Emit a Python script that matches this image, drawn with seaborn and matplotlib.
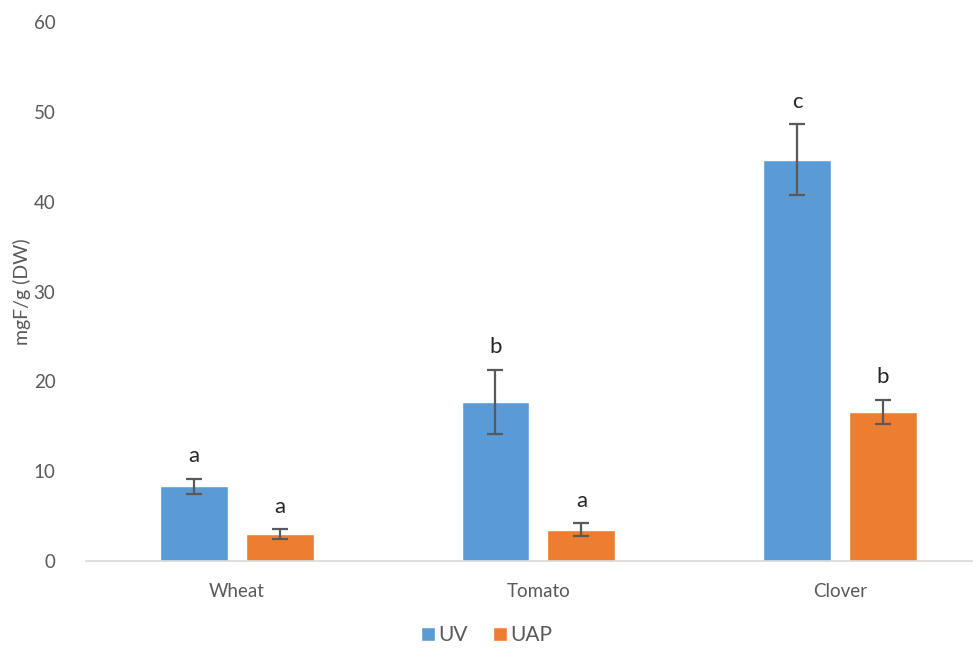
import matplotlib
matplotlib.use("Agg")
import matplotlib.pyplot as plt
import seaborn as sns
import pandas as pd
import numpy as np

crops = ["Wheat", "Tomato", "Clover"]
uv_values = [8.3, 17.7, 44.7]
uap_values = [3.0, 3.5, 16.6]
uv_err = [0.85, 3.6, 3.95]
uap_err = [0.55, 0.7, 1.35]
uv_letters = ["a", "b", "c"]
uap_letters = ["a", "a", "b"]
series = ["UV", "UAP"]
colors = ["#5B9BD5", "#ED7D31"]
y_ticks = [0, 10, 20, 30, 40, 50, 60]

df = pd.DataFrame({
    "crop": crops * 2,
    "series": [series[0]] * 3 + [series[1]] * 3,
    "value": uv_values + uap_values,
})

sns.set_theme(style="white")
plt.rcParams["font.family"] = ["Lato", "DejaVu Sans"]
text_color = "#595959"

fig = plt.figure(figsize=(9.73, 6.49), dpi=100)
ax = fig.add_axes([0.0884, 0.1356, 0.930, 0.830])

sns.barplot(data=df, x="crop", y="value", hue="series", order=crops,
            hue_order=series, palette=colors, width=0.57, gap=0.21,
            errorbar=None, ax=ax, saturation=1, legend=True)

errs = uv_err + uap_err
letters = uv_letters + uap_letters
vals = uv_values + uap_values
bars = [p for p in ax.patches if p.get_height() > 0][:6]
for p, e, lab, v in zip(bars, errs, letters, vals):
    xc = p.get_x() + p.get_width() / 2
    ax.errorbar(xc, v, yerr=e, fmt="none", ecolor="#595959", elinewidth=1.6,
                capsize=5.5, capthick=1.6, zorder=5)
    ax.text(xc, v + e + 1.4, lab, ha="center", va="bottom", fontsize=16,
            color="#262626")

ax.set_ylim(0, 60)
ax.set_yticks(y_ticks)
ax.set_xlim(-0.5, 2.5)
ax.set_xlabel("")
ax.set_ylabel("mgF/g (DW)", fontsize=14, color=text_color, labelpad=2)
ax.tick_params(axis="both", length=0, labelsize=13.5, colors=text_color)
ax.tick_params(axis="x", pad=16)
ax.tick_params(axis="y", pad=22)
for s in ["top", "right", "left"]:
    ax.spines[s].set_visible(False)
ax.spines["bottom"].set_color("#D9D9D9")
ax.spines["bottom"].set_linewidth(1.2)

handles, labels = ax.get_legend_handles_labels()
ax.get_legend().remove()
fig.legend(handles, labels, loc="lower center", bbox_to_anchor=(0.5, -0.02),
           ncol=2, frameon=False, fontsize=15, handlelength=0.7,
           handleheight=0.7, handletextpad=0.15, columnspacing=1.2,
           labelcolor=text_color, borderpad=0.3)

fig.savefig("out.png", dpi=100)
